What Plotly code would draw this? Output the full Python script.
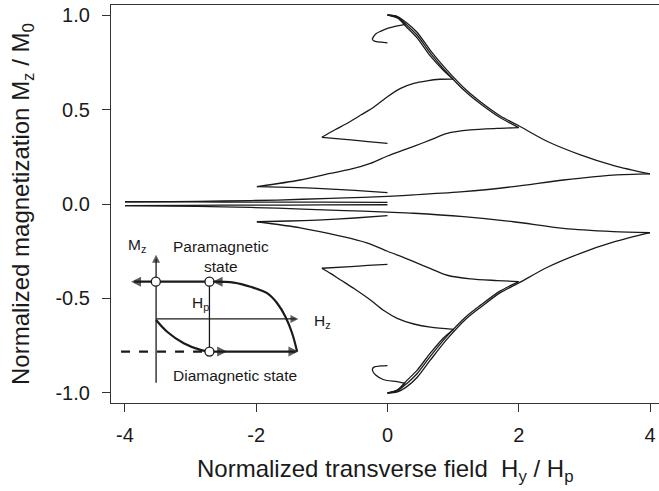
import plotly.graph_objects as go

# ---- measured loops (upper half: paramagnetic start, lower half: diamagnetic start) ----
# each loop: 0 -> +Hmax, back to -Hmax, then back to 0; *_tips are the indices of the two turning points
up_025_x = [0, 0.15, 0.27, 0.15, 0.0, -0.1, -0.18, -0.23, -0.2, -0.1, 0.0]
up_025_y = [1.0, 0.99, 0.95, 0.942, 0.929, 0.915, 0.900, 0.872, 0.862, 0.856, 0.853]
up_025_tips = [2, 2]

up_1_x = [0, 0.15, 0.30, 0.45, 0.655, 0.85, 1.0,
          0.8, 0.6, 0.4, 0.2, 0.0, -0.2, -0.4, -0.6, -0.8, -1.0,
          -0.56, -0.3, 0.0]
up_1_y = [1.0, 0.984, 0.933, 0.879, 0.782, 0.708, 0.661,
          0.660, 0.652, 0.638, 0.612, 0.568, 0.515, 0.472, 0.430, 0.393, 0.353,
          0.339, 0.330, 0.321]
up_1_tips = [6, 16]

up_2_x = [0, 0.15, 0.30, 0.45, 0.655, 0.91, 1.2, 1.42, 1.72, 2.0,
          1.67, 1.265, 0.91, 0.655, 0.4, 0.25, 0.0, -0.26, -0.56, -0.87, -1.33, -1.99,
          -1.5, -1.07, -0.5, 0.0]
up_2_y = [1.0, 0.988, 0.945, 0.894, 0.797, 0.693, 0.591, 0.529, 0.456, 0.404,
          0.400, 0.392, 0.374, 0.339, 0.305, 0.286, 0.254, 0.215, 0.184, 0.162, 0.127, 0.092,
          0.088, 0.083, 0.072, 0.060]
up_2_tips = [9, 21]

up_4_x = [0, 0.15, 0.30, 0.45, 0.655, 0.91, 1.2, 1.42, 1.72, 2.0, 2.43, 2.94, 3.45, 4.0,
          3.44, 2.68, 1.92, 1.16, 0.4, 0.0, -0.37, -0.87, -1.68, -2.5, -3.3, -4.0,
          -3.0, -2.0, -1.0, 0.0]
up_4_y = [1.0, 0.992, 0.957, 0.909, 0.812, 0.707, 0.603, 0.540, 0.466, 0.414, 0.332, 0.260, 0.203, 0.159,
          0.153, 0.127, 0.092, 0.065, 0.048, 0.040, 0.035, 0.030, 0.021, 0.016, 0.013, 0.012,
          0.011, 0.010, 0.010, 0.009]
up_4_tips = [13, 25]

lo_025_x = [0, 0.15, 0.27, 0.148, -0.056, -0.18, -0.23, -0.2, -0.1, 0.0]
lo_025_y = [-1.0, -0.985, -0.949, -0.940, -0.930, -0.905, -0.875, -0.862, -0.857, -0.855]
lo_025_tips = [2, 2]

lo_1_x = [0, 0.15, 0.30, 0.45, 0.655, 0.85, 1.01,
          0.655, 0.4, 0.148, -0.05, -0.26, -0.5, -0.7, -0.87, -1.0,
          -0.56, -0.3, 0.0]
lo_1_y = [-1.0, -0.984, -0.932, -0.880, -0.788, -0.710, -0.663,
          -0.652, -0.635, -0.605, -0.565, -0.508, -0.450, -0.405, -0.367, -0.340,
          -0.331, -0.325, -0.319]
lo_1_tips = [6, 15]

lo_2_x = [0, 0.15, 0.30, 0.45, 0.655, 0.91, 1.2, 1.42, 1.72, 2.0,
          1.67, 1.265, 0.91, 0.655, 0.4, 0.25, 0.0, -0.26, -0.56, -0.87, -1.33, -1.99,
          -1.5, -1.07, -0.5, 0.0]
lo_2_y = [-1.0, -0.989, -0.948, -0.898, -0.805, -0.698, -0.595, -0.535, -0.460, -0.411,
          -0.405, -0.396, -0.377, -0.342, -0.305, -0.284, -0.250, -0.212, -0.182, -0.158, -0.126, -0.094,
          -0.090, -0.085, -0.074, -0.062]
lo_2_tips = [9, 21]

lo_4_x = [0, 0.15, 0.30, 0.45, 0.655, 0.91, 1.2, 1.42, 1.72, 2.0, 2.43, 2.94, 3.45, 4.0,
          3.44, 2.68, 1.92, 1.16, 0.4, 0.0, -0.37, -0.87, -1.68, -2.5, -3.3, -4.0,
          -3.0, -2.0, -1.0, 0.0]
lo_4_y = [-1.0, -0.994, -0.965, -0.918, -0.825, -0.714, -0.607, -0.546, -0.469, -0.418, -0.336, -0.261, -0.201, -0.152,
          -0.146, -0.129, -0.094, -0.067, -0.049, -0.043, -0.038, -0.032, -0.022, -0.015, -0.011, -0.009,
          -0.007, -0.006, -0.005, -0.004]
lo_4_tips = [13, 25]

loops = [(up_025_x, up_025_y, up_025_tips), (up_1_x, up_1_y, up_1_tips),
         (up_2_x, up_2_y, up_2_tips), (up_4_x, up_4_y, up_4_tips),
         (lo_025_x, lo_025_y, lo_025_tips), (lo_1_x, lo_1_y, lo_1_tips),
         (lo_2_x, lo_2_y, lo_2_tips), (lo_4_x, lo_4_y, lo_4_tips)]

x_ticks = [-4, -2, 0, 2, 4]
x_ticktext = ["-4", "-2", "0", "2", "4"]
y_ticks = [-1.0, -0.5, 0.0, 0.5, 1.0]
y_ticktext = ["-1.0", "-0.5", "0.0", "0.5", "1.0"]

# ---- inset sketch (drawn in the main axes' units) ----
ins_axis_x = -3.526
ins_top_y = -0.411
ins_hz_y = -0.608
ins_bot_y = -0.781
ins_hp_x = -2.713
para_x = [-2.648, -2.343, -2.088, -1.834, -1.681, -1.555, -1.453, -1.377]
para_y = [-0.411, -0.416, -0.438, -0.472, -0.525, -0.596, -0.684, -0.781]
dia_x = [-3.526, -3.358, -3.105, -2.851, -2.713]
dia_y = [-0.614, -0.676, -0.737, -0.772, -0.781]
circ_x = [-3.53, -2.713, -2.713]
circ_y = [-0.411, -0.411, -0.781]
# arrowhead tips and the way they point
head_x = [ins_axis_x, -1.357, -3.907, -2.665, -2.444, -1.357]
head_y = [-0.268, ins_hz_y, ins_top_y, ins_top_y, ins_bot_y, ins_bot_y]
head_dir = ["arrow-up", "arrow-right", "arrow-left", "arrow-left", "arrow-right", "arrow-right"]
head_size = [8, 8, 10, 10, 10, 10]

FONT = "Liberation Sans, Arial, sans-serif"
INK = "#1a1a1a"

fig = go.Figure()

# main loops, split at the turning points so the tips stay sharp
for lx, ly, (i1, i2) in loops:
    cuts = [0, i1, i2, len(lx) - 1]
    for a, b in zip(cuts[:-1], cuts[1:]):
        if b <= a:
            continue
        fig.add_trace(go.Scatter(x=lx[a:b + 1], y=ly[a:b + 1], mode="lines",
                                 line=dict(color=INK, width=1.3, shape="spline", smoothing=0.8),
                                 hoverinfo="skip", showlegend=False))


def seg(xs, ys, width, dash="solid", shape="linear"):
    fig.add_trace(go.Scatter(x=xs, y=ys, mode="lines",
                             line=dict(color=INK, width=width, dash=dash, shape=shape),
                             hoverinfo="skip", showlegend=False))


seg([ins_axis_x, ins_axis_x], [-0.946, -0.29], 1.3)
seg([ins_axis_x, -1.40], [ins_hz_y, ins_hz_y], 1.3)
seg([ins_hp_x, ins_hp_x], [ins_top_y, ins_bot_y], 1.3)
seg([-3.86, para_x[0]], [ins_top_y, ins_top_y], 2.2)
seg(para_x, para_y, 2.2, shape="spline")
seg(dia_x, dia_y, 2.2, shape="spline")
seg([-4.06, ins_hp_x], [ins_bot_y, ins_bot_y], 2.2, dash="dash")
seg([ins_hp_x, -1.40], [ins_bot_y, ins_bot_y], 2.2)
fig.add_trace(go.Scatter(x=circ_x, y=circ_y, mode="markers",
                         marker=dict(size=9, color="white", line=dict(color=INK, width=1.3)),
                         hoverinfo="skip", showlegend=False))
fig.add_trace(go.Scatter(x=head_x, y=head_y, mode="markers",
                         marker=dict(symbol=head_dir, size=head_size, color=INK, line=dict(width=0)),
                         hoverinfo="skip", showlegend=False))


def label(x, y, text, size=15.5):
    fig.add_annotation(x=x, y=y, xref="x", yref="y", text=text, showarrow=False,
                       font=dict(family=FONT, size=size, color=INK))


label(-3.81, -0.222, "M<sub>z</sub>")
label(-2.53, -0.28, "Paramagnetic<br>state")
label(-2.85, -0.524, "H<sub>p</sub>")
label(-0.99, -0.624, "H<sub>z</sub>")
label(-2.317, -0.905, "Diamagnetic state")

# axis titles
fig.add_annotation(xref="paper", yref="paper", x=0.5, y=0, yanchor="middle", yshift=-67,
                   text="Normalized transverse field&nbsp; H<sub>y</sub> / H<sub>p</sub>",
                   showarrow=False, font=dict(family=FONT, size=24, color=INK))
fig.add_annotation(xref="paper", yref="paper", x=0, y=0.5, xanchor="center", xshift=-89,
                   textangle=-90,
                   text="Normalized magnetization M<sub>z</sub> / M<sub>0</sub>",
                   showarrow=False, font=dict(family=FONT, size=24, color=INK))

fig.update_layout(
    width=659, height=491,
    margin=dict(l=111, r=0, t=5, b=88),
    paper_bgcolor="white", plot_bgcolor="white",
    font=dict(family=FONT, size=20, color=INK),
    showlegend=False,
)
fig.update_xaxes(range=[-4.213, 4.137], tickvals=x_ticks, ticktext=x_ticktext,
                 showline=True, linecolor="#333", linewidth=1.3, mirror=True,
                 ticks="outside", ticklen=8, tickwidth=1.3, tickcolor="#333",
                 showgrid=False, zeroline=False, ticklabelstandoff=6)
fig.update_yaxes(range=[-1.053, 1.053], tickvals=y_ticks, ticktext=y_ticktext,
                 showline=True, linecolor="#333", linewidth=1.3,
                 ticks="outside", ticklen=8, tickwidth=1.3, tickcolor="#333",
                 showgrid=False, zeroline=False, ticklabelstandoff=8)

# the page's default body margin would shift the figure by 8 px
fig.write_html("out.html", config={"displayModeBar": False},
               post_script="document.body.style.margin='0';")
